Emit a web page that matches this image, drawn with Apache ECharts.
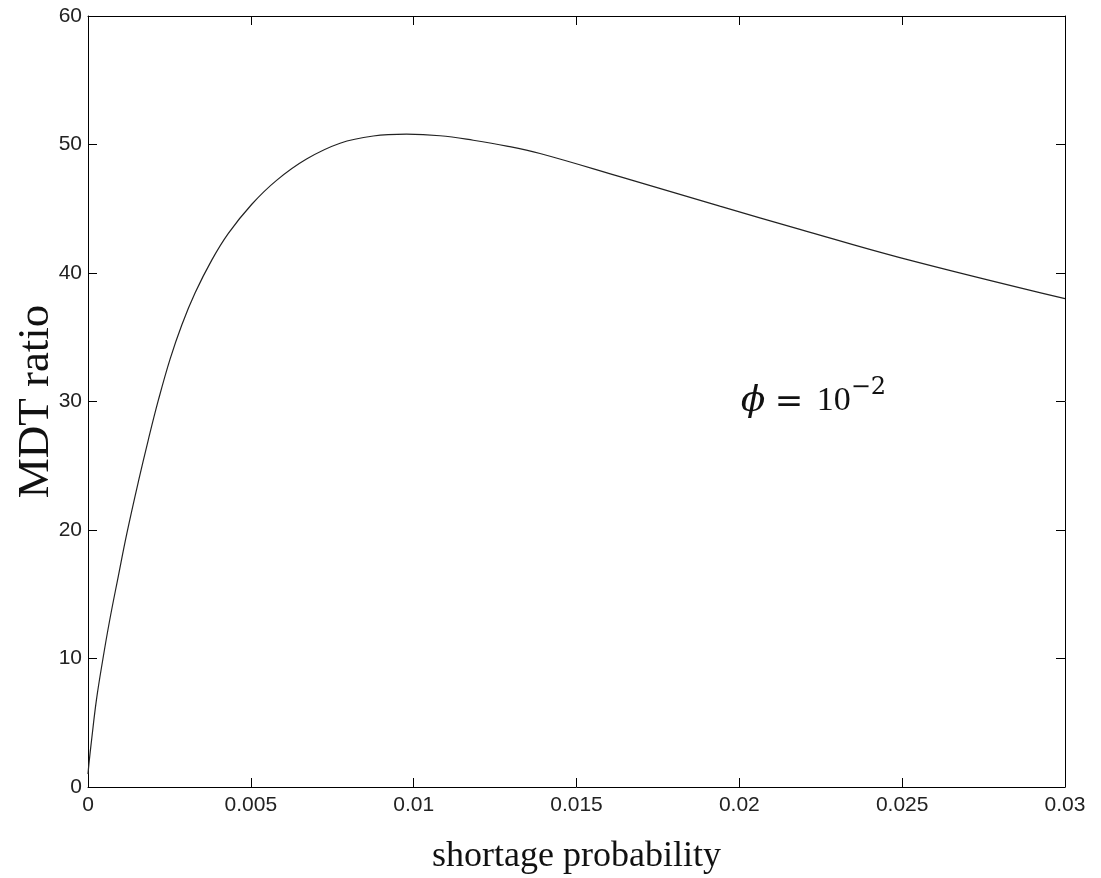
<!DOCTYPE html>
<html>
<head>
<meta charset="utf-8">
<script src="https://cdn.jsdelivr.net/npm/echarts@6/dist/echarts.min.js"></script>
<style>
html,body{margin:0;padding:0;background:#fff;}
#main{width:1101px;height:878px;}
</style>
</head>
<body>
<div id="main"></div>
<script>
// Data
const shortageProb = [0, 0.00003, 0.00011, 0.00026, 0.00046, 0.00066, 0.00093, 0.00119, 0.00155, 0.00185, 0.00216, 0.00252, 0.00288, 0.00329, 0.0038, 0.00431, 0.00503, 0.00579, 0.00671, 0.00774, 0.00876, 0.00978, 0.01081, 0.01183, 0.01286, 0.01388, 0.01633, 0.0194, 0.02186, 0.02493, 0.03];
const mdtRatio = [1.0, 1.84, 3.66, 6.8, 10.0, 12.9, 16.4, 19.7, 23.8, 27.0, 30.1, 33.3, 35.96, 38.46, 41.0, 43.08, 45.35, 47.21, 48.87, 50.1, 50.66, 50.8, 50.68, 50.33, 49.88, 49.3, 47.5, 45.2, 43.4, 41.2, 38.0];
const xTicks = [0, 0.005, 0.01, 0.015, 0.02, 0.025, 0.03];
const yTicks = [0, 10, 20, 30, 40, 50, 60];
const xLabel = 'shortage probability';
const yLabel = 'MDT ratio';
const annotationPos = [0.0225, 30];

const chart = echarts.init(document.getElementById('main'), null, {renderer: 'canvas'});
const seriesData = shortageProb.map((x, i) => [x, mdtRatio[i]]);

const tickFont = {fontFamily: '"Liberation Sans", Arial, sans-serif', fontSize: 21, color: '#222'};
const axisLine = {show: true, onZero: false, lineStyle: {color: '#000', width: 1}};
const axisTick = {show: true, inside: true, length: 9, lineStyle: {color: '#000', width: 1}};
const fmt = v => String(parseFloat(Number(v).toFixed(4)));
const serif = '"Liberation Serif", "Times New Roman", serif';

const xBase = {
  type: 'value', min: xTicks[0], max: xTicks[xTicks.length - 1], interval: xTicks[1] - xTicks[0],
  axisLine: axisLine, axisTick: axisTick, splitLine: {show: false}
};
const yBase = {
  type: 'value', min: yTicks[0], max: yTicks[yTicks.length - 1], interval: yTicks[1] - yTicks[0],
  axisLine: axisLine, axisTick: axisTick, splitLine: {show: false}
};

chart.setOption({
  animation: false,
  backgroundColor: '#fff',
  grid: {left: 88, right: 36, top: 16, bottom: 91, containLabel: false, outerBoundsMode: 'none'},
  xAxis: [
    Object.assign({}, xBase, {
      position: 'bottom',
      axisLabel: Object.assign({margin: 8, formatter: fmt}, tickFont),
      name: xLabel, nameLocation: 'middle', nameGap: 52, nameMoveOverlap: false,
      nameTextStyle: {fontFamily: serif, fontSize: 36, color: '#111'}
    }),
    Object.assign({}, xBase, {position: 'top', axisLabel: {show: false}})
  ],
  yAxis: [
    Object.assign({}, yBase, {
      position: 'left',
      axisLabel: Object.assign({margin: 6, formatter: fmt}, tickFont),
      name: yLabel, nameLocation: 'middle', nameGap: 29, nameMoveOverlap: false,
      nameTextStyle: {fontFamily: serif, fontSize: 45, color: '#111'}
    }),
    Object.assign({}, yBase, {position: 'right', axisLabel: {show: false}})
  ],
  series: [{
    type: 'line',
    xAxisIndex: 0, yAxisIndex: 0,
    data: seriesData,
    showSymbol: false,
    smooth: 0.4,
    lineStyle: {color: '#222', width: 1.2}
  }]
});

const p = chart.convertToPixel({xAxisIndex: 0, yAxisIndex: 0}, annotationPos);
chart.setOption({
  graphic: [
    {type: 'text', x: p[0] - 80, y: p[1] - 18,
     style: {text: 'ϕ', font: 'italic 36px "DejaVu Serif", serif', fill: '#111'}},
    {type: 'text', x: p[0] - 46, y: p[1] - 15,
     style: {text: '=', font: '34px "DejaVu Serif", serif', fill: '#111'}},
    {type: 'text', x: p[0] - 4, y: p[1] - 17,
     style: {text: '10', font: '34px ' + serif, fill: '#111'}},
    {type: 'text', x: p[0] + 30, y: p[1] - 26,
     style: {text: '−2', font: '24px "DejaVu Serif", serif', fill: '#111'}}
  ]
});
</script>
</body>
</html>
